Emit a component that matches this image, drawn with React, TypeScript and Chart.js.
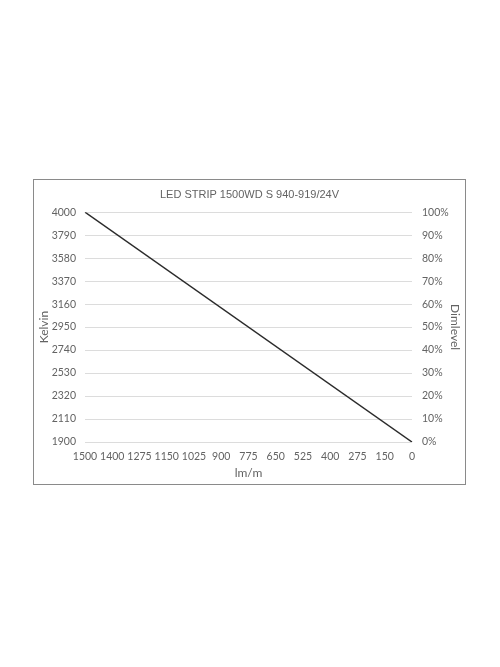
import { useEffect, useRef } from 'react';
import { Chart } from 'chart.js/auto';

const chartTitle = 'LED STRIP 1500WD S 940-919/24V';
const lumenLabels = ['1500', '1400', '1275', '1150', '1025', '900', '775', '650', '525', '400', '275', '150', '0'];
// only the two ends are known, the line is drawn straight between them
const kelvinValues = [4000, null, null, null, null, null, null, null, null, null, null, null, 1900];
const kelvinMin = 1900;
const kelvinMax = 4000;
const kelvinStep = 210;
const dimMin = 0;
const dimMax = 100;
const dimStep = 10;

const textColor = '#636363';
const tickFont = { family: 'Lato, "Open Sans", sans-serif', size: 10.5 };

export default function App() {
  const canvasRef = useRef<HTMLCanvasElement>(null);

  useEffect(() => {
    if (!canvasRef.current) return;

    const chart = new Chart(canvasRef.current, {
      type: 'line',
      data: {
        labels: lumenLabels,
        datasets: [{
          data: kelvinValues,
          borderColor: '#2b2b2b',
          borderWidth: 1.5,
          pointRadius: 0,
          spanGaps: true,
          yAxisID: 'y',
        }],
      },
      options: {
        responsive: true,
        maintainAspectRatio: false,
        animation: false,
        layout: { padding: 0 },
        plugins: {
          legend: { display: false },
          tooltip: { enabled: false },
          title: {
            display: true,
            text: chartTitle,
            color: textColor,
            font: { family: '"Liberation Sans", Arial, sans-serif', size: 11, weight: 'normal' },
            padding: { top: 8, bottom: 11 },
          },
        },
        scales: {
          x: {
            type: 'category',
            offset: false,
            grid: { display: false, drawTicks: false },
            border: { display: false },
            ticks: { color: textColor, font: tickFont, padding: 8, maxRotation: 0, autoSkip: false },
            title: { display: true, text: 'lm/m', color: textColor, font: { ...tickFont, size: 12 }, padding: { top: 0, bottom: 4 } },
            afterFit: (scale: any) => { scale.height = 42; },
          },
          y: {
            position: 'left',
            min: kelvinMin,
            max: kelvinMax,
            grid: { color: '#dcdcdc', drawTicks: false },
            border: { display: false },
            ticks: { stepSize: kelvinStep, color: textColor, font: tickFont, padding: 9, callback: (v: any) => String(v) },
            title: { display: true, text: 'Kelvin', color: textColor, font: { ...tickFont, size: 12 }, padding: { top: 3, bottom: 0 } },
            afterFit: (scale: any) => { scale.width = 51; },
          },
          y1: {
            position: 'right',
            min: dimMin,
            max: dimMax,
            grid: { display: false, drawTicks: false },
            border: { display: false },
            ticks: { stepSize: dimStep, color: textColor, font: tickFont, padding: 10, callback: (v: any) => v + '%' },
            title: { display: true, text: 'Dimlevel', color: textColor, font: { ...tickFont, size: 12 }, padding: { top: 3, bottom: 0 } },
            afterFit: (scale: any) => { scale.width = 53; },
          },
        },
      },
    });

    return () => chart.destroy();
  }, []);

  return (
    <div style={{ position: 'fixed', left: 0, top: 0, width: 500, height: 667, background: '#fff' }}>
      <div
        style={{
          position: 'absolute',
          left: 33,
          top: 179,
          width: 431,
          height: 304,
          border: '1px solid #8a8a8a',
        }}
      >
        <canvas ref={canvasRef} />
      </div>
    </div>
  );
}
